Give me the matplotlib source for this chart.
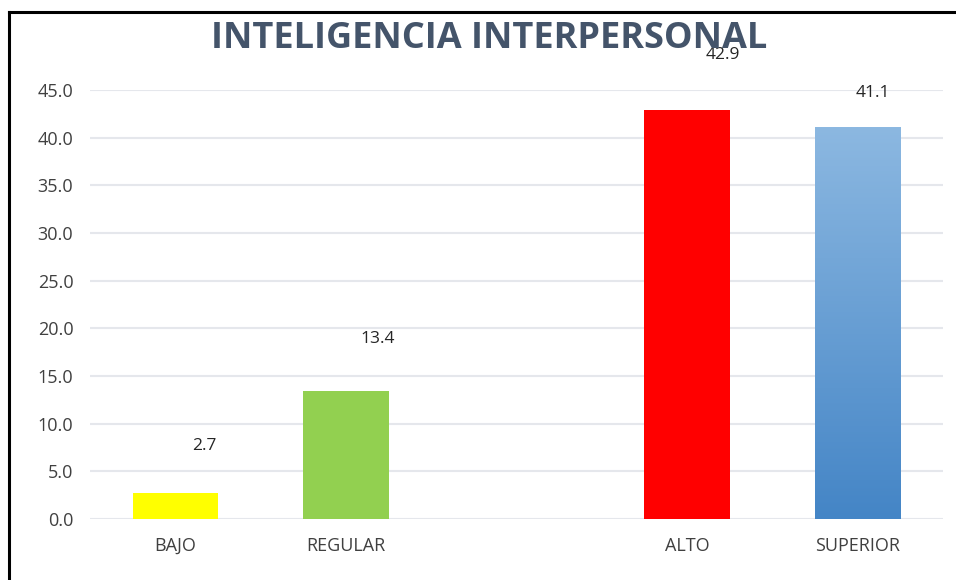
import numpy as np
import matplotlib
matplotlib.use("Agg")
import matplotlib.pyplot as plt
from matplotlib.lines import Line2D
from matplotlib.colors import LinearSegmentedColormap

# datos
categorias = ["BAJO", "REGULAR", "", "ALTO", "SUPERIOR"]
valores = [2.7, 13.4, 0.0, 42.9, 41.1]
etiquetas = ["2.7", "13.4", "", "42.9", "41.1"]
colores = ["#FFFF00", "#92D050", "none", "#FF0000", "#5B9BD5"]
# desplazamiento de las etiquetas (px) respecto a la cima de cada barra
despl = [(29, 47), (32, 52), (0, 0), (36, 55), (15, 34)]

plt.rcParams["font.family"] = ["Open Sans", "DejaVu Sans"]

fig = plt.figure(figsize=(9.56, 5.8), dpi=100)
ax = fig.add_axes([90 / 956, 61 / 580, 853 / 956, 429 / 580])

x = np.arange(len(categorias))
bars = ax.bar(x, valores, width=0.5, color=colores, zorder=2)

# degradado para SUPERIOR
b = bars[4]
cmap = LinearSegmentedColormap.from_list("azul", ["#4485C6", "#8CB8E1"])
grad = np.linspace(0, 1, 256).reshape(-1, 1)
im = ax.imshow(grad, cmap=cmap, origin="lower", aspect="auto", zorder=3,
               extent=[b.get_x(), b.get_x() + b.get_width(), 0, b.get_height()])
im.set_clip_path(b)

ax.set_xlim(-0.5, len(categorias) - 0.5)
ax.set_ylim(0, 45)
ax.set_yticks(np.arange(0, 46, 5))
ax.set_yticklabels([f"{v:.1f}" for v in np.arange(0, 46, 5)])
ax.set_xticks(x)
ax.set_xticklabels(categorias)
ax.tick_params(axis="both", length=0, labelsize=13, colors="#404040")
ax.tick_params(axis="y", pad=12)
ax.tick_params(axis="x", pad=13)
ax.grid(axis="y", color="#E5E7EC", linewidth=1.5, zorder=0)
for s in ax.spines.values():
    s.set_visible(False)

for i, (v, t) in enumerate(zip(valores, etiquetas)):
    if t:
        ax.annotate(t, (x[i], v), xytext=(despl[i][0] * 0.72, despl[i][1] * 0.72),
                    textcoords="offset points", ha="center", va="center",
                    fontsize=12.5, color="#262626", zorder=5)

fig.text(0.512, 1 - 39 / 580, "INTELIGENCIA INTERPERSONAL", ha="center",
         va="center", fontsize=26, fontweight="bold", color="#44546A",
         zorder=1)

# marco (superior e izquierdo)
fig.add_artist(Line2D([9 / 956, 1], [1 - 12 / 580, 1 - 12 / 580],
                      transform=fig.transFigure, color="black", linewidth=2.2))
fig.add_artist(Line2D([9 / 956, 9 / 956], [0, 1 - 12 / 580],
                      transform=fig.transFigure, color="black", linewidth=2.2))

fig.savefig("out.png", dpi=100)
